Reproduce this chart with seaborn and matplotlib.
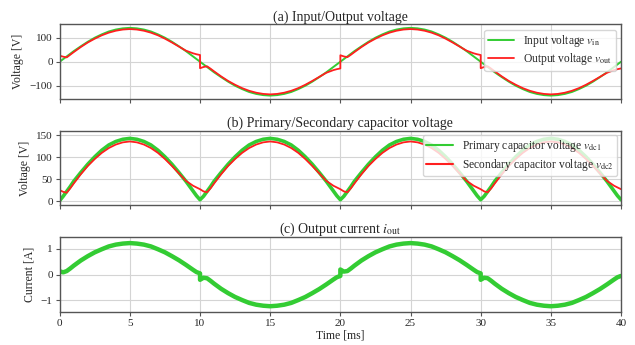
import seaborn as sns
import matplotlib
matplotlib.use('Agg')
import matplotlib.pyplot as plt

# time grid: each half period (10 ms) sampled at these offsets, the crossing
# instants (10, 20, 30 ms) appear twice so the jumps stay vertical
offsets_ms = [0, 0.25, 0.5, 0.75, 1, 1.5, 2, 2.5, 3, 3.5, 4, 4.5, 5,
              5.5, 6, 6.5, 7, 7.5, 8, 8.5, 9, 9.5, 9.75, 10]
t_ms = [10 * k + o for k in range(4) for o in offsets_ms]

# (a) input / output voltage [V]
v_in = [0, 11, 22, 33, 44, 64, 83, 100, 114, 126, 134, 139, 141, 139, 134, 126, 114, 100, 83, 64, 44, 22, 11, 0,
        0, -11, -22, -33, -44, -64, -83, -100, -114, -126, -134, -139, -141, -139, -134, -126, -114, -100, -83, -64, -44, -22, -11, 0,
        0, 11, 22, 33, 44, 64, 83, 100, 114, 126, 134, 139, 141, 139, 134, 126, 114, 100, 83, 64, 44, 22, 11, 0,
        0, -11, -22, -33, -44, -64, -83, -100, -114, -126, -134, -139, -141, -139, -134, -126, -114, -100, -83, -64, -44, -22, -11, 0]
v_out = [25, 21, 18, 29, 40, 61, 80, 96, 110, 121, 129, 134, 136, 134, 129, 121, 110, 96, 80, 63, 46, 35, 31, 28,
         -27, -22, -19, -29, -40, -61, -80, -96, -110, -121, -129, -134, -136, -134, -129, -121, -110, -96, -80, -63, -46, -35, -31, -28,
         27, 22, 19, 29, 40, 61, 80, 96, 110, 121, 129, 134, 136, 134, 129, 121, 110, 96, 80, 63, 46, 35, 31, 28,
         -27, -22, -19, -29, -40, -61, -80, -96, -110, -121, -129, -134, -136, -134, -129, -121, -110, -96, -80, -63, -46, -35, -31, -28]

# (b) primary / secondary capacitor voltage [V]
v_dc1 = [1, 11, 22, 33, 45, 65, 84, 101, 116, 128, 136, 141, 143, 141, 136, 128, 116, 101, 84, 65, 45, 23, 12, 3,
         3, 11, 22, 33, 45, 65, 84, 101, 116, 128, 136, 141, 143, 141, 136, 128, 116, 101, 84, 65, 45, 23, 12, 3,
         3, 11, 22, 33, 45, 65, 84, 101, 116, 128, 136, 141, 143, 141, 136, 128, 116, 101, 84, 65, 45, 23, 12, 3,
         3, 11, 22, 33, 45, 65, 84, 101, 116, 128, 136, 141, 143, 141, 136, 128, 116, 101, 84, 65, 45, 23, 12, 3]
v_dc2 = [25, 21, 19, 29, 40, 61, 80, 96, 110, 121, 129, 134, 136, 134, 129, 121, 110, 96, 80, 63, 46, 35, 31, 27,
         27, 22, 20, 29, 40, 61, 80, 96, 110, 121, 129, 134, 136, 134, 129, 121, 110, 96, 80, 63, 46, 35, 31, 27,
         27, 22, 20, 29, 40, 61, 80, 96, 110, 121, 129, 134, 136, 134, 129, 121, 110, 96, 80, 63, 46, 35, 31, 27,
         27, 22, 20, 29, 40, 61, 80, 96, 110, 121, 129, 134, 136, 134, 129, 121, 110, 96, 80, 63, 46, 35, 31, 27]

# (c) output current [A]
i_out = [0.13, 0.09, 0.14, 0.24, 0.35, 0.55, 0.72, 0.87, 0.99, 1.10, 1.17, 1.21, 1.23, 1.21, 1.17, 1.10, 0.99, 0.87, 0.72, 0.56, 0.38, 0.19, 0.10, 0.05,
         -0.20, -0.12, -0.14, -0.24, -0.35, -0.55, -0.72, -0.87, -0.99, -1.10, -1.17, -1.21, -1.23, -1.21, -1.17, -1.10, -0.99, -0.87, -0.72, -0.56, -0.38, -0.19, -0.10, -0.05,
         0.20, 0.12, 0.14, 0.24, 0.35, 0.55, 0.72, 0.87, 0.99, 1.10, 1.17, 1.21, 1.23, 1.21, 1.17, 1.10, 0.99, 0.87, 0.72, 0.56, 0.38, 0.19, 0.10, 0.05,
         -0.20, -0.12, -0.14, -0.24, -0.35, -0.55, -0.72, -0.87, -0.99, -1.10, -1.17, -1.21, -1.23, -1.21, -1.17, -1.10, -0.99, -0.87, -0.72, -0.56, -0.38, -0.19, -0.10, -0.05]

GREEN = '#33cc33'
RED = '#ff1f1f'

sns.set_theme(style='whitegrid')
plt.rcParams['font.family'] = ['Liberation Serif', 'DejaVu Serif']
plt.rcParams['mathtext.fontset'] = 'stix'
plt.rcParams['axes.edgecolor'] = '#555555'
plt.rcParams['grid.color'] = '#d4d4d4'

fig, axes = plt.subplots(3, 1, figsize=(6.35, 3.45), dpi=100, sharex=True)
fig.subplots_adjust(left=0.094, right=0.978, top=0.929, bottom=0.096, hspace=0.43)

# (a)
ax = axes[0]
sns.lineplot(x=t_ms, y=v_in, estimator=None, sort=False, color=GREEN, lw=1.4,
             label=r'Input voltage $v_\mathrm{in}$', ax=ax)
sns.lineplot(x=t_ms, y=v_out, estimator=None, sort=False, color=RED, lw=1.3,
             label=r'Output voltage $v_\mathrm{out}$', ax=ax)
ax.set_ylim(-155, 155)
ax.set_yticks([-100, 0, 100])
ax.set_ylabel('Voltage [V]')
ax.set_title('(a) Input/Output voltage', fontsize=10, pad=3)

# (b)
ax = axes[1]
sns.lineplot(x=t_ms, y=v_dc1, estimator=None, sort=False, color=GREEN, lw=2.6,
             label=r'Primary capacitor voltage $v_\mathrm{dc1}$', ax=ax)
sns.lineplot(x=t_ms, y=v_dc2, estimator=None, sort=False, color=RED, lw=1.3,
             label=r'Secondary capacitor voltage $v_\mathrm{dc2}$', ax=ax)
ax.set_ylim(-10, 160)
ax.set_yticks([0, 50, 100, 150])
ax.set_ylabel('Voltage [V]')
ax.set_title('(b) Primary/Secondary capacitor voltage', fontsize=10, pad=3)

# (c)
ax = axes[2]
sns.lineplot(x=t_ms, y=i_out, estimator=None, sort=False, color=GREEN, lw=3.2, ax=ax)
ax.set_ylim(-1.45, 1.45)
ax.set_yticks([-1, 0, 1])
ax.set_ylabel('Current [A]')
ax.set_xlabel('Time [ms]', labelpad=1)
ax.set_title(r'(c) Output current $i_\mathrm{out}$', fontsize=10, pad=3)

for ax in axes:
    ax.set_xlim(0, 40)
    ax.set_xticks(range(0, 41, 5))
    ax.tick_params(labelsize=8, length=3, width=0.8, color='#555555', pad=2,
                   bottom=True, left=True)
    ax.yaxis.label.set_size(8.5)
    ax.xaxis.label.set_size(8.5)
    for s in ax.spines.values():
        s.set_linewidth(1.0)
    ax.grid(True, lw=0.8)

axes[0].legend(loc='upper right', fontsize=8.3, framealpha=0.8, borderaxespad=0.45,
               borderpad=0.3, handlelength=2.3, labelspacing=0.2)
leg = axes[1].legend(loc='upper right', fontsize=8.3, framealpha=0.8, borderaxespad=0.35,
                     borderpad=0.3, handlelength=2.3, labelspacing=0.2)
for h in leg.get_lines():
    h.set_linewidth(1.5)

fig.savefig('out.png', dpi=100)
